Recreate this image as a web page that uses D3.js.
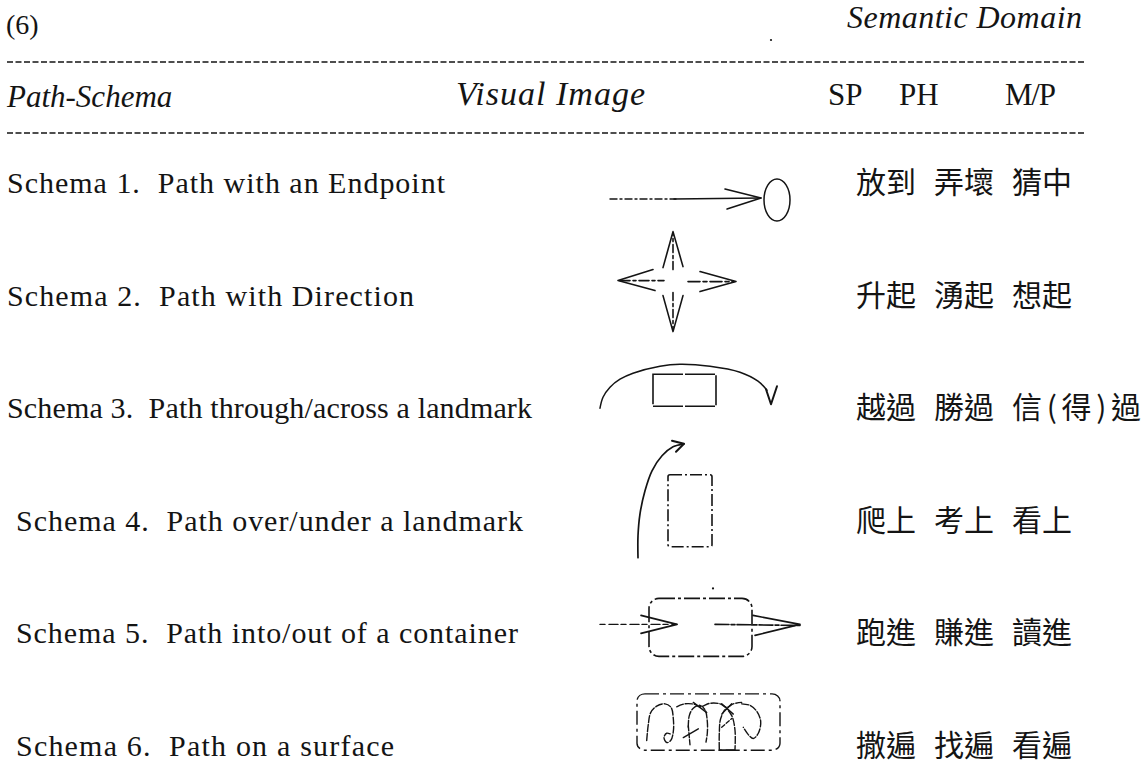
<!DOCTYPE html>
<html><head><meta charset="utf-8">
<script src="https://cdn.jsdelivr.net/npm/d3@7"></script>
<style>html,body{margin:0;padding:0;background:#fff;} svg{display:block}</style>
</head><body>
<svg id="c" width="1142" height="774"></svg>
<script>
// ---------- data ----------
const figureNo = "(6)";
const domainTitle = "Semantic Domain";
const headerLeft = "Path-Schema";
const headerMid = "Visual Image";
const domains = ["SP", "PH", "M/P"];
const schemaIds = ["1", "2", "3", "4", "5", "6"];
const schemaLabels = [
  "Schema 1.  Path with an Endpoint",
  "Schema 2.  Path with Direction",
  "Schema 3.  Path through/across a landmark",
  "Schema 4.  Path over/under a landmark",
  "Schema 5.  Path into/out of a container",
  "Schema 6.  Path on a surface"
];
const spVerbs = ["放到", "升起", "越過", "爬上", "跑進", "撒遍"];
const phVerbs = ["弄壞", "湧起", "勝過", "考上", "賺進", "找遍"];
const mpVerbs = ["猜中", "想起", "信(得)過", "看上", "讀進", "看遍"];

// ---------- layout ----------
const ink = "#141414";
const serif = "'Liberation Serif','Times New Roman',serif";
const cjk = "'Noto Sans CJK TC','Noto Sans CJK SC',sans-serif";
const svg = d3.select("#c");

const rowY = d3.scalePoint().domain(schemaIds).range([182, 745]);
const colX = d3.scalePoint().domain(domains).range([856, 1012]);
const labelStart = [7, 7, 7, 16, 16, 16];
const labelEnd = [445, 414, 532, 523, 518, 394];

function fit(sel, x0, x1) {
  sel.attr("x", x0);
  const n = sel.node().getComputedTextLength();
  if (Math.abs(n - (x1 - x0)) > 2) sel.attr("textLength", x1 - x0).attr("lengthAdjust", "spacing");
  return sel;
}
function txt(str, size, opts = {}) {
  return svg.append("text")
    .attr("font-family", opts.family || serif)
    .attr("font-size", size)
    .attr("font-style", opts.italic ? "italic" : "normal")
    .attr("fill", ink)
    .style("white-space", "pre")
    .attr("y", opts.y)
    .text(str);
}

// title row
txt(figureNo, 28, { y: 34 }).attr("x", 6);
fit(txt(domainTitle, 32, { y: 28, italic: true }), 847, 1082);
svg.append("circle").attr("cx", 771).attr("cy", 40).attr("r", 1.1).attr("fill", ink);

// dashed rules
[62, 133].forEach(y => {
  svg.append("line").attr("x1", 7).attr("x2", 1085).attr("y1", y).attr("y2", y)
    .attr("stroke", ink).attr("stroke-width", 1.4).attr("stroke-dasharray", "6,2.5");
});

// header row
fit(txt(headerLeft, 31, { y: 107, italic: true }), 7, 172);
fit(txt(headerMid, 34, { y: 105, italic: true }), 456, 645);
const headX = { "SP": [828, 862], "PH": [899, 938], "M/P": [1005, 1056] };
domains.forEach(d => fit(txt(d, 31, { y: 105 }), headX[d][0], headX[d][1]));

// schema labels
schemaIds.forEach((id, i) => {
  fit(txt(schemaLabels[i], 30, { y: rowY(id) + 11 }), labelStart[i], labelEnd[i]);
});

// verbs
const verbCols = { "SP": spVerbs, "PH": phVerbs, "M/P": mpVerbs };
domains.forEach(d => {
  verbCols[d].forEach((v, i) => {
    const w = v.length > 2 ? 129 : 60;
    const t = txt(v, 30, { y: rowY(schemaIds[i]) + 11, family: cjk });
    fit(t, colX(d), colX(d) + w);
  });
});

// ---------- visual images ----------
const straight = d3.line();
const smooth = d3.line().curve(d3.curveCatmullRom.alpha(0.5));
function row(id) { return svg.append("g").attr("transform", `translate(0,${rowY(id)})`); }
function stroke(g, pts, opts = {}) {
  return g.append("path").attr("d", (opts.smooth ? smooth : straight)(pts))
    .attr("fill", "none").attr("stroke", ink)
    .attr("stroke-width", opts.w || 1.6)
    .attr("stroke-linecap", "round").attr("stroke-linejoin", "round")
    .attr("stroke-dasharray", opts.dash || null)
    .attr("vector-effect", "non-scaling-stroke");
}
function box(g, x, y, w, h, rx, dash) {
  return g.append("rect").attr("x", x).attr("y", y).attr("width", w).attr("height", h)
    .attr("rx", rx).attr("fill", "none").attr("stroke", ink).attr("stroke-width", 1.6)
    .attr("stroke-dasharray", dash || null)
    .attr("vector-effect", "non-scaling-stroke");
}

// 1. endpoint
{
  const g = row("1");
  stroke(g, [[610, 17], [676, 17]], { dash: "7,3,2,3", w: 1.4 });
  stroke(g, [[674, 17], [761, 16]], { w: 1.5 });
  stroke(g, [[725, 7], [761, 16], [727, 27]]);
  g.append("ellipse").attr("cx", 777).attr("cy", 18).attr("rx", 13).attr("ry", 21)
    .attr("fill", "none").attr("stroke", ink).attr("stroke-width", 1.5);
}
// 2. direction
{
  const g = row("2");
  stroke(g, [[620, -14], [664, -14]], { dash: "10,3,3,3" });
  stroke(g, [[653, -25], [618, -14], [655, -4]]);
  stroke(g, [[688, -13], [734, -13]], { dash: "12,3,4,3" });
  stroke(g, [[700, -23], [736, -13], [700, -3]]);
  stroke(g, [[673, -2], [673, 35]], { dash: "8,3,3,3" });
  stroke(g, [[663, 1], [673, 37], [683, 1]]);
  stroke(g, [[673, -25], [673, -61]], { dash: "8,3,3,3" });
  stroke(g, [[663, -27], [673, -63], [683, -28]]);
}
// 3. through/across
{
  const g = row("3");
  box(g, 653, -33, 63, 32, 0, "30,2");
  stroke(g, [[600, 1], [603, -10], [610, -20], [620, -28], [633, -34], [660, -41], [680, -43],
    [710, -41], [740, -35], [758, -26], [767, -17]], { smooth: true, w: 1.5 });
  stroke(g, [[766, -18], [771, -3], [777, -21]], { w: 2 });
}
// 4. over/under
{
  const g = row("4");
  box(g, 668, -45, 44, 72, 2, "12,3,2,3");
  stroke(g, [[638, 38], [638, 16], [640, -6], [645, -29], [652, -49], [662, -64], [673, -73], [684, -76]],
    { smooth: true, w: 1.7 });
  stroke(g, [[672, -79], [684, -76], [676, -68]], { w: 2 });
}
// 5. into/out of
{
  const g = row("5");
  box(g, 649, -34, 103, 58, 10, "16,3,3,3");
  g.append("circle").attr("cx", 713).attr("cy", -44).attr("r", 1.1).attr("fill", ink);
  stroke(g, [[600, -8], [677, -8]], { dash: "5,4,9,3", w: 1.4 });
  stroke(g, [[641, -17], [677, -8], [641, 1]]);
  stroke(g, [[715, -8], [800, -7]], { dash: "14,2,4,2" });
  stroke(g, [[753, -17], [800, -8], [755, 3]]);
}
// 6. surface
{
  const g0 = row("6");
  const g = g0.append("g").attr("transform", "translate(0,-52) scale(1,0.88) translate(0,52)");
  box(g, 637, -51, 143, 64, 8, "14,4,3,4").attr("stroke-width", 1.4);
  const sw = { smooth: true, w: 1.4, dash: "7,2" };
  stroke(g, [[646.7, 2], [648.3, -16.3], [650.7, -29.7], [656.7, -37], [665, -39.7], [671, -35.7],
    [673.3, -23], [673.3, -8], [670.7, 2], [666.7, 4.3], [664, -1.3], [666.7, -6.3], [671.7, -4.7]], sw);
  stroke(g, [[683.3, -1.3], [698.3, -11.3]], { w: 1.4 });
  stroke(g, [[688.3, -14.7], [690, 7]], { w: 1.4, dash: "5,2" });
  stroke(g, [[688.3, -13], [689.3, -26.3], [693.3, -34.7], [700, -38], [705, -33], [707.3, -19.7],
    [707.3, -6.3], [706, 3.7]], sw);
  stroke(g, [[676.7, -36.3], [685, -39.7], [695, -39], [700, -36.3], [710, -40.3], [720, -39.7],
    [726.7, -35.7], [733.3, -39.7], [741.7, -41.3]], sw);
  stroke(g, [[693.3, -41.3], [706.7, -29.7]], { w: 1.4 });
  stroke(g, [[721.7, -39.7], [733.3, -28]], { w: 1.4 });
  stroke(g, [[731.7, -39.7], [721.7, -28]], { w: 1.4 });
  stroke(g, [[719.3, 12], [719.3, -6.3], [720.7, -23], [726, -33.7], [731.7, -26.3], [735, -9.7], [735, 12]], sw);
  stroke(g, [[719.3, 13], [735, 13]], { w: 1.8 });
  stroke(g, [[721.7, -13], [731.7, -23]], { w: 1.3, dash: "4,2" });
  stroke(g, [[741.7, -39.7], [750, -38], [756.7, -31.3], [760.7, -19.7], [758.3, -6.3], [753.3, -0.3],
    [748.3, -4.7], [743.3, -13]], sw);
}
</script>
</body></html>
